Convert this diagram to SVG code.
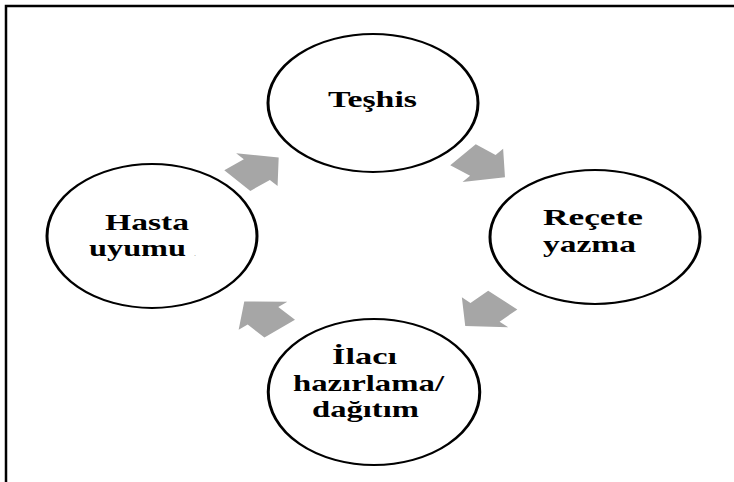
<svg xmlns="http://www.w3.org/2000/svg" xmlns:xlink="http://www.w3.org/1999/xlink" width="734" height="482" viewBox="0 0 734 482">
  <style>
    .node { fill: #ffffff; stroke: #000000; stroke-width: 2; }
    .lbl { font-family: "Liberation Serif", "Times New Roman", serif; font-weight: bold; font-size: 23px; fill: #000000; }
    .arrow { fill: #a6a6a6; stroke: none; }
    .frame { fill: none; stroke: #000000; stroke-width: 2.5; }
  </style>
  <defs>
    <polygon id="blockArrow" class="arrow" points="-18,-13.5 -1,-13.5 -1,-21.5 18,0 -1,21.5 -1,13.5 -18,13.5"/>
  </defs>
  <rect width="734" height="482" fill="#ffffff"/>
  <path class="frame" d="M6,482 V6 H734"/>

  <g id="connectors">
    <use xlink:href="#blockArrow" href="#blockArrow" transform="translate(258,169) scale(1.5,1) rotate(-40)"/>
    <use xlink:href="#blockArrow" href="#blockArrow" transform="translate(484,166) scale(1.5,1) rotate(39)"/>
    <use xlink:href="#blockArrow" href="#blockArrow" transform="translate(484,313) scale(1.5,1) rotate(134)"/>
    <use xlink:href="#blockArrow" href="#blockArrow" transform="translate(262,315) scale(1.5,1) rotate(-131)"/>
  </g>

  <g id="node-teshis">
    <ellipse class="node" cx="0" cy="0" rx="70" ry="69" transform="translate(373,103) scale(1.5,1)"/>
    <text class="lbl" x="328" y="107" textLength="89" lengthAdjust="spacingAndGlyphs">Teşhis</text>
  </g>

  <g id="node-recete">
    <ellipse class="node" cx="0" cy="0" rx="70" ry="67" transform="translate(595,237) scale(1.5,1)"/>
    <text class="lbl" x="543" y="225" textLength="100" lengthAdjust="spacingAndGlyphs">Reçete</text>
    <text class="lbl" x="543" y="252" textLength="93" lengthAdjust="spacingAndGlyphs">yazma</text>
  </g>

  <g id="node-ilaci">
    <ellipse class="node" cx="0" cy="0" rx="70.5" ry="73" transform="translate(374,392) scale(1.5,1)"/>
    <text class="lbl" x="332" y="364" textLength="65" lengthAdjust="spacingAndGlyphs">İlacı</text>
    <text class="lbl" x="293" y="391" textLength="151" lengthAdjust="spacingAndGlyphs">hazırlama/</text>
    <text class="lbl" x="312" y="417" textLength="107" lengthAdjust="spacingAndGlyphs">dağıtım</text>
  </g>

  <g id="node-hasta">
    <ellipse class="node" cx="0" cy="0" rx="70" ry="72" transform="translate(152,236) scale(1.5,1)"/>
    <text class="lbl" x="105" y="230" textLength="84" lengthAdjust="spacingAndGlyphs">Hasta</text>
    <text class="lbl" x="89" y="256" textLength="97" lengthAdjust="spacingAndGlyphs">uyumu</text>
    <text x="194" y="256" font-family="Liberation Serif, serif" font-size="8" fill="#999999">.</text>
  </g>
</svg>
